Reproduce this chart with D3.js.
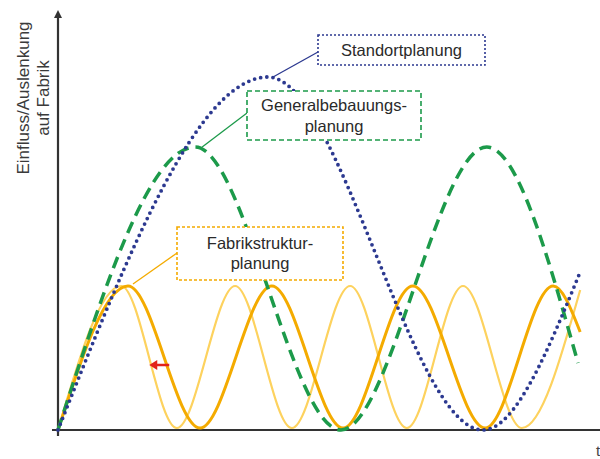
<!DOCTYPE html>
<html>
<head>
<meta charset="utf-8">
<script src="https://cdn.jsdelivr.net/npm/d3@7"></script>
<style>
  html, body { margin: 0; padding: 0; background: #fff; }
  svg { display: block; font-family: "Liberation Sans", Arial, sans-serif; }
</style>
</head>
<body>
<svg id="chart" width="600" height="459"></svg>
<script>
// ---- data (t in arbitrary units 0..100, influence 0..100) ----
const standortT = [0, 38.9, 78.7, 96.7];
const standortV = [0, 88.25, 0, 39.5];

const generalT = [0, 25.4, 52.4, 79.4, 96.3];
const generalV = [0, 70.75, 0, 70.75, 16.75];

const fabrikT = [0, 12.96, 26.3, 39.6, 52.8, 65.7, 79.1, 91.7, 96.7];
const fabrikV = [0, 36, 0.5, 36, 0.5, 36, 0.5, 36, 24.5];

const fabrikFastT = [0, 11.7, 22.0, 32.8, 43.3, 54.1, 64.6, 75.0, 85.9, 96.7];
const fabrikFastV = [0, 36, 0.5, 36, 0.5, 36, 0.5, 36, 0.5, 35];

const shiftArrowT = [20.6, 16.9];
const shiftArrowV = 16.25;

const yLabelLines = ["Einfluss/Auslenkung", "auf Fabrik"];
const xLabel = "t";
const labelStandort = ["Standortplanung"];
const labelGeneral = ["Generalbebauungs-", "planung"];
const labelFabrik = ["Fabrikstruktur-", "planung"];

// ---- setup ----
const svg = d3.select("#chart");
const x = d3.scaleLinear().domain([0, 100]).range([58, 598]);
const y = d3.scaleLinear().domain([0, 100]).range([430, 30]);

const zip = (t, v) => t.map((d, i) => [d, v[i]]);
const line = d3.line().x(d => x(d[0])).y(d => y(d[1])).curve(d3.curveMonotoneX);

const navy = "#2c3990", green = "#1c9a4a", gold = "#f4ab00", lightGold = "#fdd25e";

// axes
const axisColor = "#333";
svg.append("line").attr("x1", x(0)).attr("x2", x(0)).attr("y1", y(0) + 6).attr("y2", 14)
  .attr("stroke", axisColor).attr("stroke-width", 2.2);
svg.append("path").attr("d", `M${x(0)-4},18 L${x(0)},10 L${x(0)+4},18 Z`).attr("fill", axisColor);
svg.append("line").attr("x1", x(0) - 6).attr("x2", 600).attr("y1", y(0)).attr("y2", y(0))
  .attr("stroke", axisColor).attr("stroke-width", 2.2);

// curves
svg.append("path").attr("d", line(zip(fabrikFastT, fabrikFastV)))
  .attr("fill", "none").attr("stroke", lightGold).attr("stroke-width", 2.2);
svg.append("path").attr("d", line(zip(fabrikT, fabrikV)))
  .attr("fill", "none").attr("stroke", gold).attr("stroke-width", 3);
svg.append("path").attr("d", line(zip(generalT, generalV)))
  .attr("fill", "none").attr("stroke", green).attr("stroke-width", 3.5)
  .attr("stroke-dasharray", "12 7");
svg.append("path").attr("d", line(zip(standortT, standortV)))
  .attr("fill", "none").attr("stroke", navy).attr("stroke-width", 3.8)
  .attr("stroke-linecap", "round").attr("stroke-dasharray", "0 6.2");

// red shift arrow
const ax0 = x(shiftArrowT[0]), ax1 = x(shiftArrowT[1]), ay = y(shiftArrowV);
svg.append("line").attr("x1", ax0).attr("x2", ax1 + 6).attr("y1", ay).attr("y2", ay)
  .attr("stroke", "#e2231a").attr("stroke-width", 2.5);
svg.append("path").attr("d", `M${ax1},${ay} L${ax1+8},${ay-5} L${ax1+8},${ay+5} Z`).attr("fill", "#e2231a");

// annotation boxes
function annot(lines, box, color, dash, target, from, fs, lh) {
  svg.append("line").attr("x1", from[0]).attr("y1", from[1])
    .attr("x2", target[0]).attr("y2", target[1])
    .attr("stroke", color).attr("stroke-width", 1.3);
  svg.append("rect").attr("x", box[0]).attr("y", box[1]).attr("width", box[2]).attr("height", box[3])
    .attr("fill", "#fff").attr("stroke", color).attr("stroke-width", 1.6).attr("stroke-dasharray", dash);
  const cx = box[0] + box[2] / 2, cy = box[1] + box[3] / 2;
  const t = svg.append("text").attr("text-anchor", "middle").attr("font-size", fs).attr("fill", "#2a2a2a");
  lines.forEach((l, i) => {
    t.append("tspan").attr("x", cx)
      .attr("y", cy + (i - (lines.length - 1) / 2) * lh)
      .attr("dy", "0.35em").text(l);
  });
}
const bluePeak = [x(standortT[1]), y(standortV[1])];
const greenPeak = [x(generalT[1]), y(generalV[1])];
const goldPeak = [x(fabrikT[1]), y(fabrikV[1])];
annot(labelStandort, [318, 35, 167, 30], navy, "2 2", [bluePeak[0] + 5, bluePeak[1]], [318, 52], 16.5, 20);
annot(labelGeneral, [247, 91, 174, 49], green, "5 3", [greenPeak[0] + 7, greenPeak[1]], [247, 113], 16.5, 21);
annot(labelFabrik, [177, 227, 166, 53], gold, "3 2", [goldPeak[0] + 5, goldPeak[1] - 2], [177, 253], 16.5, 20);

// y label
const yl = svg.append("text").attr("text-anchor", "middle").attr("font-size", 17).attr("fill", "#3a3a3a")
  .attr("transform", "translate(33,98) rotate(-90)");
yLabelLines.forEach((l, i) => {
  yl.append("tspan").attr("x", 0).attr("y", (i - 0.5) * 20).attr("dy", "0.35em").text(l);
});

// x label
svg.append("text").attr("x", 596).attr("y", 456).attr("font-size", 15).attr("fill", "#444").text(xLabel);
</script>
</body>
</html>
